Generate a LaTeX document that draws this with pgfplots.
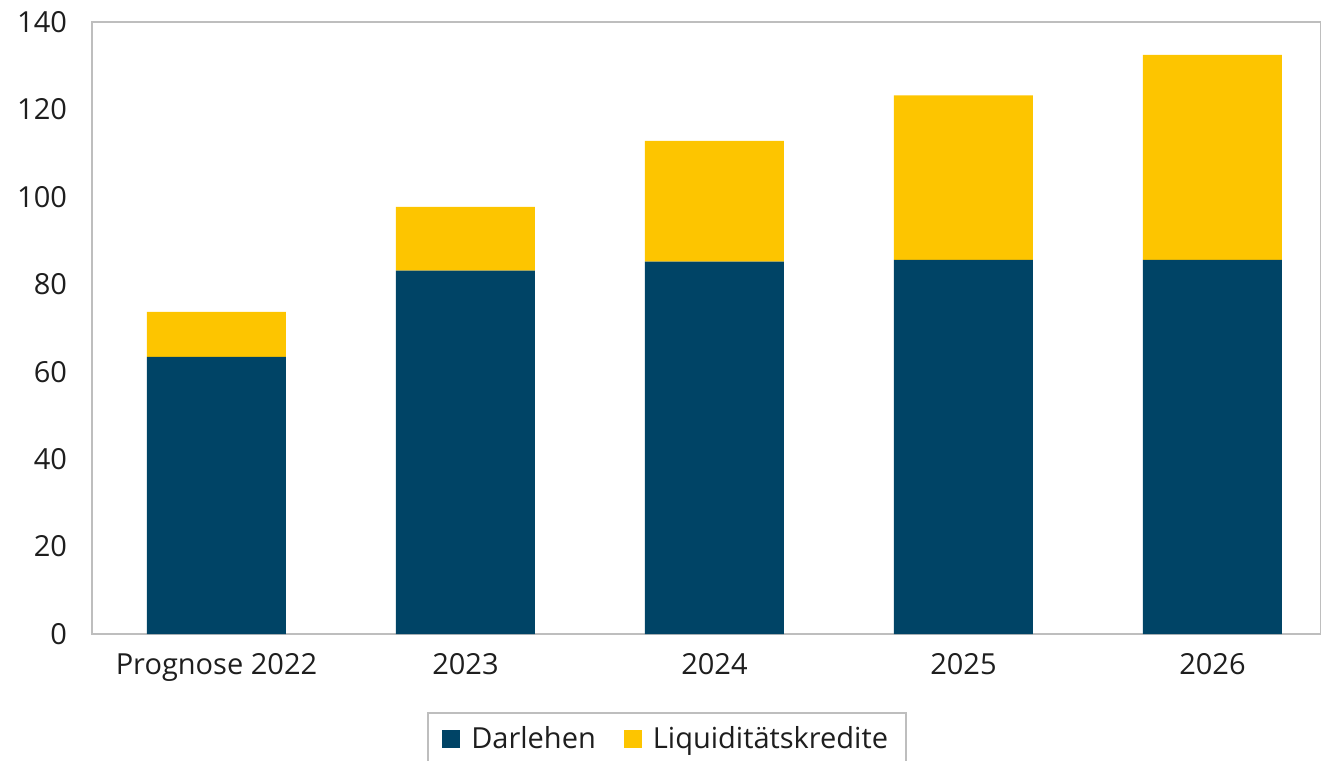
\documentclass[border=0pt]{standalone}
\usepackage{pgfplots}
\pgfplotsset{compat=1.18}
\usepackage{fontspec}
\setmainfont{Open Sans}
\definecolor{darlehen}{RGB}{0,68,102}
\definecolor{liqui}{RGB}{253,197,0}
\definecolor{framegray}{RGB}{190,190,190}
\definecolor{txt}{RGB}{30,30,30}
\begin{document}
\begin{tikzpicture}
\begin{axis}[
  at={(0,0)}, anchor=south west,
  scale only axis,
  width=614.5pt, height=306pt,
  ybar stacked,
  bar width=69.5pt,
  xmin=-0.5, xmax=4.436,
  ymin=0, ymax=140,
  ytick={0,20,...,140},
  xtick={0,1,2,3,4},
  xticklabels={Prognose 2022,2023,2024,2025,2026},
  major tick length=0pt,
  axis line style={framegray, line width=0.8pt},
  tick label style={font=\fontsize{14.5}{17}\selectfont, text=txt},
  /pgf/number format/assume math mode=true,
  yticklabel style={xshift=-9pt},
  xticklabel style={yshift=-6pt},
  legend style={at={(0.468,-0.1275)}, anchor=north, legend columns=2,
    draw=framegray, line width=0.8pt, font=\fontsize{14.5}{17}\selectfont, text=txt,
    inner xsep=7pt, inner ysep=5pt,
    /tikz/every even column/.append style={column sep=12pt}},
  legend image code/.code={\fill[#1] (0pt,-4.5pt) rectangle (9pt,4.5pt); \path (12.5pt,0pt);},
]
\addplot[fill=darlehen, draw=none] coordinates {(0,63.4) (1,83.1) (2,85.2) (3,85.6) (4,85.6)};
\addplot[fill=liqui, draw=none] coordinates {(0,10.3) (1,14.6) (2,27.6) (3,37.6) (4,46.9)};
\legend{Darlehen, Liquiditätskredite}
\end{axis}
\pgfresetboundingbox
\useasboundingbox (-46pt,-63pt) rectangle (614.5pt,317pt);
\end{tikzpicture}
\end{document}
